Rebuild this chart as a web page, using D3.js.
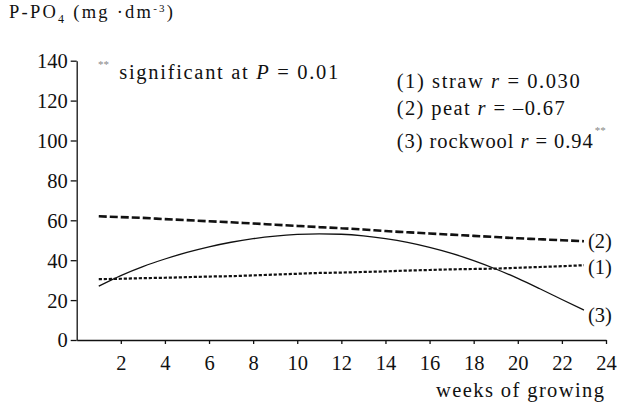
<!DOCTYPE html>
<html>
<head>
<meta charset="utf-8">
<script src="https://cdn.jsdelivr.net/npm/d3@7"></script>
</head>
<body style="margin:0; background:#fff">
<div id="chart"></div>
<script>
// weeks of growing
var weeks = [1, 2, 3, 4, 5, 6, 7, 8, 9, 10, 11, 12, 13, 14, 15, 16, 17, 18, 19, 20, 21, 22, 23];
// (1) straw - dotted
var straw = [30.5, 30.7, 31, 31.2, 31.5, 31.8, 32, 32.4, 32.8, 33.2, 33.6, 33.8, 34.1, 34.4, 34.8, 35.1, 35.4, 35.6, 35.8, 36.2, 36.6, 37, 37.5];
// (2) peat - dashed
var peat = [62, 61.6, 61.2, 60.6, 60.1, 59.5, 59, 58.4, 57.8, 57.2, 56.6, 56, 55.4, 54.6, 54, 53.4, 52.8, 52.2, 51.6, 51, 50.5, 50, 49.5];
// (3) rockwool - solid
var rockwool = [27, 32.3, 36.8, 40.6, 43.9, 46.7, 49, 50.8, 52.1, 52.9, 53.2, 53, 52.2, 50.8, 48.9, 46.4, 43.4, 39.8, 35.6, 30.9, 25.7, 20.3, 15];

var yTicks = [0, 20, 40, 60, 80, 100, 120, 140];
var xTicks = [2, 4, 6, 8, 10, 12, 14, 16, 18, 20, 22, 24];

var W = 617, H = 411;
var fs = 20.5;
var serif = "'Liberation Serif'";

var svg = d3.select("#chart").append("svg")
    .attr("width", W)
    .attr("height", H)
    .style("display", "block");

var x = d3.scaleLinear().domain([0, 24]).range([76.7, 606]);
var y = d3.scaleLinear().domain([0, 140]).range([340, 60.7]);

// y axis
var yAxis = d3.axisLeft(y).tickValues(yTicks).tickSize(6).tickSizeOuter(0).tickPadding(3);
var gy = svg.append("g").attr("transform", "translate(" + x(0) + ",0)").call(yAxis);
gy.attr("font-family", null).attr("font-size", null);
gy.selectAll("text").attr("dy", "0.34em");

// x axis
var xAxis = d3.axisBottom(x).tickValues(xTicks).tickSize(4).tickSizeOuter(0).tickPadding(11);
var gx = svg.append("g").attr("transform", "translate(0," + y(0) + ")").call(xAxis);
gx.attr("font-family", null).attr("font-size", null);

svg.selectAll(".tick text")
    .style("font-family", serif)
    .style("font-size", fs + "px")
    .attr("fill", "#111");

svg.selectAll(".domain, .tick line").attr("stroke", "#111").attr("stroke-width", 1.3);

// lines
var series = [
    { name: "(1)", values: straw, dash: "3.2,1.8", width: 2.2, off: 2 },
    { name: "(2)", values: peat, dash: "8,3", width: 2.6, off: 0 },
    { name: "(3)", values: rockwool, dash: null, width: 1.3, off: 5 }
];

var line = d3.line()
    .x(function(d, i) { return x(weeks[i]); })
    .y(function(d) { return y(d); })
    .curve(d3.curveMonotoneX);

function label(xp, yp, size) {
    return svg.append("text")
        .attr("x", xp)
        .attr("y", yp)
        .attr("fill", "#111")
        .style("font-family", serif)
        .style("font-size", size + "px");
}

series.forEach(function(s) {
    svg.append("path")
        .datum(s.values)
        .attr("fill", "none")
        .attr("stroke", "#111")
        .attr("stroke-width", s.width)
        .attr("stroke-dasharray", s.dash)
        .attr("d", line);

    var last = s.values[s.values.length - 1];
    label(x(weeks[weeks.length - 1]) + 4, y(last) + s.off, fs)
        .attr("dy", "0.34em")
        .text(s.name);
});

// y axis title
var title = label(9, 18.3, 18.5).attr("textLength", 164).attr("lengthAdjust", "spacing");
title.append("tspan").text("P-PO");
title.append("tspan").attr("dy", 5).style("font-size", "12px").text("4");
title.append("tspan").attr("dy", -5).text(" (mg \u00b7dm");
title.append("tspan").attr("dy", -6).style("font-size", "11px").text("-3");
title.append("tspan").attr("dy", 6).text(")");

// x axis title
label(436, 396.7, fs)
    .attr("textLength", 168)
    .attr("lengthAdjust", "spacing")
    .text("weeks of growing");

// significance note
label(98, 68, 11)
    .attr("fill", "#888")
    .text("**");

var sig = label(119.3, 79.3, fs).attr("textLength", 219).attr("lengthAdjust", "spacing");
sig.append("tspan").text("significant at ");
sig.append("tspan").style("font-style", "italic").text("P");
sig.append("tspan").text(" = 0.01");

// legend
var legend = [
    { label: "(1) straw ", r: "0.030", yb: 88.3, len: 183, star: false },
    { label: "(2) peat ", r: "\u20130.67", yb: 115, len: 168, star: false },
    { label: "(3) rockwool ", r: "0.94", yb: 148.3, len: 196, star: true }
];

legend.forEach(function(l) {
    var t = label(396.7, l.yb, fs).attr("textLength", l.len).attr("lengthAdjust", "spacing");
    t.append("tspan").text(l.label);
    t.append("tspan").style("font-style", "italic").text("r");
    t.append("tspan").text(" = " + l.r);
    if (l.star) {
        label(396.7 + l.len + 2, l.yb - 14, 11)
            .attr("fill", "#888")
            .text("**");
    }
});
</script>
</body>
</html>
